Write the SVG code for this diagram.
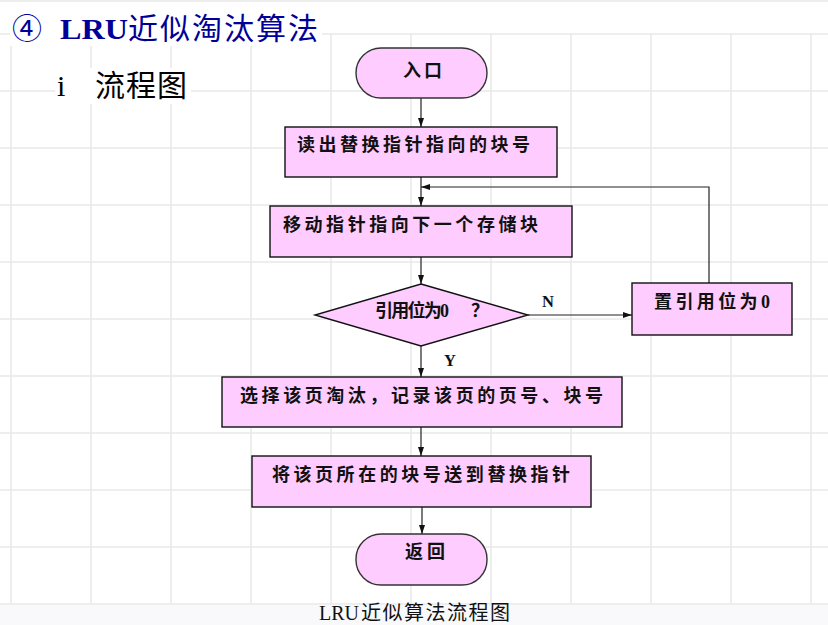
<svg xmlns="http://www.w3.org/2000/svg" width="828" height="625" viewBox="0 0 828 625">
<defs>
<marker id="arr" markerWidth="10" markerHeight="8" refX="9" refY="4" orient="auto" markerUnits="userSpaceOnUse">
<path d="M0,1 L9,4 L0,7 Z" fill="#111"/>
</marker>
<style>
.grid line{stroke:#e8e8e8;stroke-width:1.5}
.node{fill:#ffccff;stroke:#111;stroke-width:1.4}
.term{fill:#ffccff;stroke:#333;stroke-width:1.4}
.t{font-family:"Liberation Serif","Noto Sans CJK SC",serif;font-weight:bold;font-size:18px;fill:#111}
.lab{font-family:"Liberation Serif",serif;font-weight:bold;font-size:16.5px;fill:#111}
#connectors path{fill:none;stroke:#222;stroke-width:1.2;marker-end:url(#arr)}
</style>
</defs>
<rect x="0" y="0" width="828" height="625" fill="#ffffff"/>
<rect x="0" y="605" width="828" height="20" fill="#f9f9fc"/>
<g class="grid">
<line x1="0" y1="1" x2="828" y2="1"/>
<line x1="0" y1="34" x2="828" y2="34"/>
<line x1="0" y1="91" x2="828" y2="91"/>
<line x1="0" y1="148" x2="828" y2="148"/>
<line x1="0" y1="205" x2="828" y2="205"/>
<line x1="0" y1="262" x2="828" y2="262"/>
<line x1="0" y1="319" x2="828" y2="319"/>
<line x1="0" y1="376" x2="828" y2="376"/>
<line x1="0" y1="433" x2="828" y2="433"/>
<line x1="0" y1="490" x2="828" y2="490"/>
<line x1="0" y1="547" x2="828" y2="547"/>
<line x1="0" y1="604" x2="828" y2="604"/>
<line x1="11" y1="34" x2="11" y2="604"/>
<line x1="91" y1="34" x2="91" y2="604"/>
<line x1="171" y1="34" x2="171" y2="604"/>
<line x1="251" y1="34" x2="251" y2="604"/>
<line x1="331" y1="34" x2="331" y2="604"/>
<line x1="411" y1="34" x2="411" y2="604"/>
<line x1="491" y1="34" x2="491" y2="604"/>
<line x1="571" y1="34" x2="571" y2="604"/>
<line x1="651" y1="34" x2="651" y2="604"/>
<line x1="731" y1="34" x2="731" y2="604"/>
<line x1="811" y1="34" x2="811" y2="604"/>
</g>
<g id="title">
<rect x="10" y="8" width="312" height="38" fill="#ffffff"/>
<text x="12" y="39" font-family="'Noto Sans CJK SC','DejaVu Sans',sans-serif" font-size="30" fill="#000099">④</text>
<text x="60" y="39" font-family="'Liberation Serif',serif" font-weight="bold" font-size="29" fill="#000099" textLength="68" lengthAdjust="spacingAndGlyphs">LRU</text>
<text x="128" y="39" font-family="'Noto Sans CJK SC',sans-serif" font-size="30" fill="#000099" textLength="190" lengthAdjust="spacing">近似淘汰算法</text>
</g>
<g id="subtitle">
<rect x="55" y="68" width="136" height="36" fill="#ffffff"/>
<text x="57" y="96" font-family="'Liberation Serif',serif" font-size="30" fill="#000">i</text>
<text x="95" y="96" font-family="'Noto Sans CJK SC',sans-serif" font-size="30" fill="#000" textLength="92" lengthAdjust="spacing">流程图</text>
</g>
<g id="connectors">
<path d="M421,98 L421,127"/>
<path d="M421,177 L421,206"/>
<path d="M421,257 L421,284"/>
<path d="M528,315 L632,315"/>
<path d="M421,346 L421,377"/>
<path d="M421,427 L421,456"/>
<path d="M422,507 L422,534"/>
<path d="M709,283 L709,187 L421,187"/>
</g>
<g id="start">
<rect class="term" x="356" y="48" width="131" height="50" rx="25" ry="25"/>
<text class="t" x="403" y="77" font-size="17" textLength="39" lengthAdjust="spacing">入口</text>
</g>
<g id="read">
<rect class="node" x="285" y="127" width="272" height="50"/>
<text class="t" x="297" y="151" textLength="233" lengthAdjust="spacing">读出替换指针指向的块号</text>
</g>
<g id="move">
<rect class="node" x="270" y="206" width="302" height="51"/>
<text class="t" x="283" y="231" textLength="255" lengthAdjust="spacing">移动指针指向下一个存储块</text>
</g>
<g id="check">
<polygon class="node" points="421,284 528,315 421,346 315,315"/>
<text class="t" y="317" font-size="17"><tspan x="375" textLength="74" lengthAdjust="spacing">引用位为0</tspan><tspan x="471">？</tspan></text>
</g>
<g id="reset">
<rect class="node" x="632" y="283" width="160" height="52"/>
<text class="t" x="654" y="308" textLength="116" lengthAdjust="spacing">置引用位为0</text>
</g>
<g id="labels">
<text class="lab" x="542" y="307">N</text>
<text class="lab" x="444" y="366">Y</text>
</g>
<g id="evict">
<rect class="node" x="222" y="377" width="400" height="50"/>
<text class="t" x="240" y="402" textLength="363" lengthAdjust="spacing">选择该页淘汰，记录该页的页号、块号</text>
</g>
<g id="send">
<rect class="node" x="252" y="456" width="339" height="51"/>
<text class="t" x="272" y="481" textLength="298" lengthAdjust="spacing">将该页所在的块号送到替换指针</text>
</g>
<g id="return">
<rect class="term" x="356" y="534" width="131" height="51" rx="25" ry="25"/>
<text class="t" x="405" y="558" font-size="17" textLength="40" lengthAdjust="spacing">返回</text>
</g>
<g id="caption">
<text y="620" font-family="'Liberation Serif','Noto Sans CJK SC',serif" font-size="20" fill="#111"><tspan x="319">LRU</tspan><tspan x="361" textLength="149" lengthAdjust="spacing">近似算法流程图</tspan></text>
</g>
</svg>
